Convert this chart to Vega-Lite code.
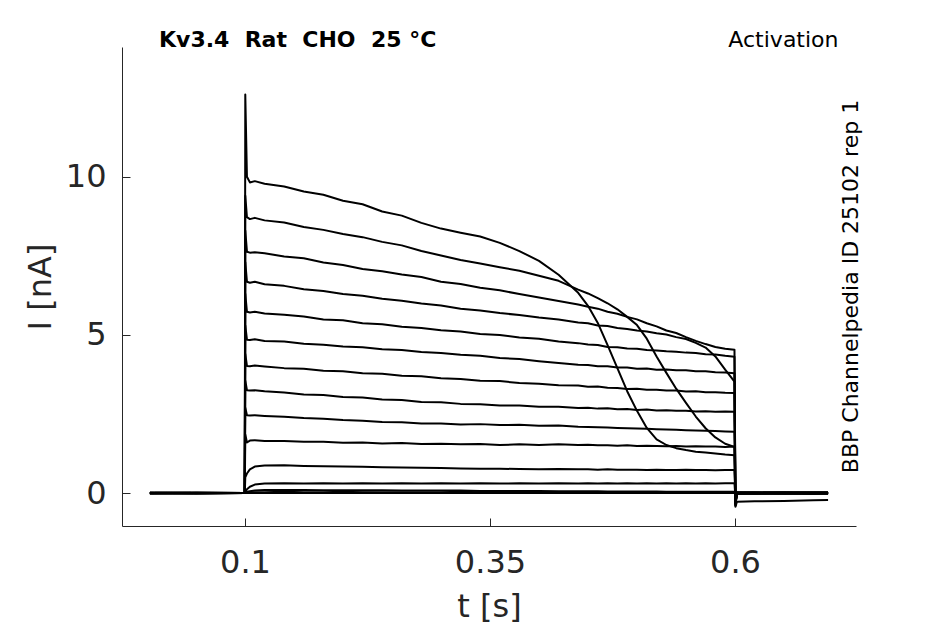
{
  "$schema": "https://vega.github.io/schema/vega-lite/v6.json",
  "width": 734,
  "height": 479,
  "autosize": {"type": "none"},
  "padding": {"left": 122, "top": 47, "right": 89, "bottom": 98},
  "background": "white",
  "config": {"view": {"stroke": null}, "font": "DejaVu Sans"},
  "title": {
    "text": "Kv3.4\u00a0 Rat\u00a0 CHO\u00a0 25 °C",
    "anchor": "start", "frame": "group", "offset": 0, "dx": 37, "dy": 41,
    "baseline": "alphabetic", "fontSize": 22, "fontWeight": "bold", "color": "black"
  },
  "data": {"values": [
    {"t":0.003,"a":0,"b":0.01,"c":0,"d":-0.01,"e":0,"f":0.01,"g":0,"h":-0.01,"i":0,"j":0.01,"k":0,"l":0,"m":0.01,"n":0,"o":-0.01},
    {"t":0.05,"a":0.01,"b":0,"c":-0.01,"d":0,"e":0.01,"f":0,"g":-0.01,"h":0,"i":0.01,"j":0,"k":-0.01,"l":0.01,"m":0,"n":0,"o":0},
    {"t":0.0998,"a":0,"b":0,"c":0,"d":0,"e":0,"f":0,"g":0,"h":0,"i":0,"j":0,"k":0,"l":0,"m":0,"n":0,"o":0},
    {"t":0.1003,"a":12.6,"b":9.4,"c":8.3,"d":7.3,"e":6.3,"f":5.3,"g":4.4,"h":3.55,"i":2.7,"j":1.85,"k":0.5,"l":0.05,"m":0.02,"n":0.01,"o":0},
    {"t":0.102,"a":10.0,"b":8.72,"c":7.63,"d":6.68,"e":5.73,"f":4.85,"g":4.02,"h":3.25,"i":2.46,"j":1.6,"k":0.62,"l":0.12,"m":0.04,"n":0.02,"o":0},
    {"t":0.105,"a":9.82,"b":8.66,"c":7.6,"d":6.65,"e":5.71,"f":4.84,"g":4.01,"h":3.24,"i":2.45,"j":1.66,"k":0.75,"l":0.2,"m":0.06,"n":0.03,"o":0},
    {"t":0.11,"a":9.86,"b":8.7,"c":7.61,"d":6.68,"e":5.73,"f":4.86,"g":4.03,"h":3.25,"i":2.46,"j":1.67,"k":0.84,"l":0.27,"m":0.08,"n":0.03,"o":0},
    {"t":0.12,"a":9.78,"b":8.62,"c":7.58,"d":6.6,"e":5.68,"f":4.81,"g":4.0,"h":3.22,"i":2.44,"j":1.65,"k":0.87,"l":0.3,"m":0.1,"n":0.03,"o":0},
    {"t":0.14,"a":9.69,"b":8.55,"c":7.48,"d":6.55,"e":5.64,"f":4.79,"g":3.95,"h":3.18,"i":2.41,"j":1.65,"k":0.88,"l":0.31,"m":0.1,"n":0.04,"o":0.01},
    {"t":0.16,"a":9.53,"b":8.41,"c":7.42,"d":6.44,"e":5.58,"f":4.72,"g":3.93,"h":3.12,"i":2.37,"j":1.62,"k":0.86,"l":0.3,"m":0.1,"n":0.03,"o":0},
    {"t":0.18,"a":9.43,"b":8.32,"c":7.29,"d":6.39,"e":5.49,"f":4.69,"g":3.87,"h":3.1,"i":2.35,"j":1.62,"k":0.85,"l":0.31,"m":0.09,"n":0.03,"o":0},
    {"t":0.2,"a":9.24,"b":8.19,"c":7.21,"d":6.29,"e":5.46,"f":4.63,"g":3.85,"h":3.04,"i":2.31,"j":1.59,"k":0.84,"l":0.3,"m":0.09,"n":0.04,"o":0},
    {"t":0.22,"a":9.13,"b":8.09,"c":7.08,"d":6.24,"e":5.37,"f":4.61,"g":3.79,"h":3.02,"i":2.29,"j":1.6,"k":0.83,"l":0.31,"m":0.09,"n":0.03,"o":0.01},
    {"t":0.24,"a":8.9,"b":7.94,"c":7.01,"d":6.14,"e":5.34,"f":4.55,"g":3.77,"h":2.96,"i":2.25,"j":1.57,"k":0.82,"l":0.3,"m":0.09,"n":0.03,"o":0},
    {"t":0.26,"a":8.77,"b":7.83,"c":6.91,"d":6.08,"e":5.26,"f":4.52,"g":3.71,"h":2.94,"i":2.24,"j":1.58,"k":0.81,"l":0.31,"m":0.08,"n":0.03,"o":0},
    {"t":0.28,"a":8.54,"b":7.65,"c":6.83,"d":5.99,"e":5.22,"f":4.46,"g":3.69,"h":2.88,"i":2.2,"j":1.55,"k":0.8,"l":0.3,"m":0.08,"n":0.03,"o":0},
    {"t":0.3,"a":8.36,"b":7.51,"c":6.68,"d":5.93,"e":5.15,"f":4.43,"g":3.63,"h":2.87,"i":2.2,"j":1.56,"k":0.79,"l":0.31,"m":0.08,"n":0.03,"o":0},
    {"t":0.32,"a":8.23,"b":7.37,"c":6.61,"d":5.83,"e":5.11,"f":4.37,"g":3.61,"h":2.82,"i":2.17,"j":1.54,"k":0.78,"l":0.3,"m":0.08,"n":0.04,"o":0},
    {"t":0.34,"a":8.11,"b":7.26,"c":6.49,"d":5.77,"e":5.03,"f":4.34,"g":3.55,"h":2.81,"i":2.18,"j":1.55,"k":0.77,"l":0.31,"m":0.07,"n":0.03,"o":0},
    {"t":0.36,"a":7.91,"b":7.14,"c":6.41,"d":5.69,"e":5.0,"f":4.27,"g":3.54,"h":2.77,"i":2.15,"j":1.52,"k":0.77,"l":0.3,"m":0.07,"n":0.03,"o":0},
    {"t":0.38,"a":7.65,"b":7.03,"c":6.29,"d":5.63,"e":4.92,"f":4.24,"g":3.48,"h":2.77,"i":2.16,"j":1.54,"k":0.76,"l":0.31,"m":0.07,"n":0.03,"o":0},
    {"t":0.4,"a":7.34,"b":6.87,"c":6.18,"d":5.55,"e":4.88,"f":4.17,"g":3.46,"h":2.73,"i":2.13,"j":1.52,"k":0.75,"l":0.3,"m":0.07,"n":0.03,"o":0},
    {"t":0.42,"a":6.9,"b":6.71,"c":6.07,"d":5.49,"e":4.79,"f":4.11,"g":3.41,"h":2.73,"i":2.14,"j":1.54,"k":0.76,"l":0.31,"m":0.06,"n":0.03,"o":0},
    {"t":0.44,"a":6.33,"b":6.43,"c":5.96,"d":5.39,"e":4.74,"f":4.06,"g":3.4,"h":2.69,"i":2.1,"j":1.52,"k":0.75,"l":0.3,"m":0.06,"n":0.03,"o":0},
    {"t":0.45,"a":5.92,"b":6.31,"c":5.89,"d":5.37,"e":4.7,"f":4.05,"g":3.36,"h":2.7,"i":2.09,"j":1.53,"k":0.75,"l":0.31,"m":0.06,"n":0.03,"o":0},
    {"t":0.46,"a":5.38,"b":6.16,"c":5.83,"d":5.3,"e":4.68,"f":4.01,"g":3.37,"h":2.67,"i":2.08,"j":1.51,"k":0.74,"l":0.3,"m":0.06,"n":0.02,"o":0},
    {"t":0.47,"a":4.68,"b":6.0,"c":5.73,"d":5.28,"e":4.62,"f":4.01,"g":3.33,"h":2.68,"i":2.07,"j":1.51,"k":0.75,"l":0.31,"m":0.05,"n":0.03,"o":0},
    {"t":0.48,"a":3.95,"b":5.81,"c":5.67,"d":5.22,"e":4.61,"f":3.97,"g":3.32,"h":2.65,"i":2.06,"j":1.5,"k":0.74,"l":0.3,"m":0.05,"n":0.03,"o":0},
    {"t":0.49,"a":3.22,"b":5.57,"c":5.57,"d":5.19,"e":4.57,"f":3.97,"g":3.29,"h":2.66,"i":2.05,"j":1.51,"k":0.74,"l":0.31,"m":0.05,"n":0.02,"o":0},
    {"t":0.5,"a":2.6,"b":5.31,"c":5.49,"d":5.14,"e":4.56,"f":3.93,"g":3.3,"h":2.63,"i":2.04,"j":1.49,"k":0.74,"l":0.3,"m":0.05,"n":0.03,"o":0},
    {"t":0.51,"a":2.06,"b":4.88,"c":5.37,"d":5.11,"e":4.52,"f":3.94,"g":3.27,"h":2.64,"i":2.03,"j":1.5,"k":0.73,"l":0.31,"m":0.05,"n":0.03,"o":0},
    {"t":0.52,"a":1.7,"b":4.32,"c":5.27,"d":5.05,"e":4.51,"f":3.9,"g":3.27,"h":2.61,"i":2.02,"j":1.49,"k":0.74,"l":0.3,"m":0.05,"n":0.02,"o":0},
    {"t":0.53,"a":1.52,"b":3.8,"c":5.14,"d":5.01,"e":4.48,"f":3.91,"g":3.24,"h":2.62,"i":2.01,"j":1.48,"k":0.73,"l":0.31,"m":0.04,"n":0.02,"o":0},
    {"t":0.54,"a":1.42,"b":3.3,"c":5.06,"d":4.93,"e":4.47,"f":3.88,"g":3.24,"h":2.6,"i":2.0,"j":1.49,"k":0.73,"l":0.3,"m":0.04,"n":0.03,"o":0},
    {"t":0.55,"a":1.36,"b":2.85,"c":4.93,"d":4.87,"e":4.44,"f":3.88,"g":3.21,"h":2.6,"i":1.99,"j":1.47,"k":0.74,"l":0.31,"m":0.04,"n":0.02,"o":0},
    {"t":0.56,"a":1.31,"b":2.42,"c":4.81,"d":4.75,"e":4.43,"f":3.85,"g":3.22,"h":2.58,"i":1.98,"j":1.48,"k":0.73,"l":0.3,"m":0.04,"n":0.02,"o":0},
    {"t":0.57,"a":1.28,"b":2.05,"c":4.71,"d":4.6,"e":4.39,"f":3.85,"g":3.19,"h":2.59,"i":1.97,"j":1.47,"k":0.73,"l":0.31,"m":0.04,"n":0.02,"o":0},
    {"t":0.58,"a":1.25,"b":1.76,"c":4.62,"d":4.32,"e":4.38,"f":3.82,"g":3.19,"h":2.57,"i":1.96,"j":1.47,"k":0.72,"l":0.3,"m":0.04,"n":0.02,"o":0},
    {"t":0.59,"a":1.22,"b":1.56,"c":4.56,"d":3.9,"e":4.34,"f":3.81,"g":3.17,"h":2.58,"i":1.95,"j":1.46,"k":0.73,"l":0.31,"m":0.04,"n":0.02,"o":0},
    {"t":0.5995,"a":1.2,"b":1.46,"c":4.53,"d":3.52,"e":4.31,"f":3.79,"g":3.16,"h":2.57,"i":1.94,"j":1.47,"k":0.73,"l":0.31,"m":0.04,"n":0.02,"o":0},
    {"t":0.6005,"a":-0.43,"b":-0.4,"c":-0.38,"d":-0.36,"e":-0.34,"f":-0.32,"g":-0.3,"h":-0.28,"i":-0.26,"j":-0.24,"k":-0.2,"l":-0.15,"m":-0.1,"n":-0.05,"o":-0.02},
    {"t":0.602,"a":-0.27,"b":0.02,"c":0.01,"d":-0.01,"e":0,"f":0.02,"g":-0.02,"h":0.01,"i":0,"j":-0.01,"k":0.02,"l":0,"m":0.01,"n":-0.01,"o":0},
    {"t":0.62,"a":-0.26,"b":0.01,"c":0.02,"d":0,"e":-0.01,"f":0.01,"g":-0.01,"h":0.02,"i":0.01,"j":-0.02,"k":0.01,"l":0.01,"m":0,"n":-0.01,"o":0},
    {"t":0.65,"a":-0.25,"b":0.02,"c":0.01,"d":-0.01,"e":0.01,"f":0.02,"g":-0.02,"h":0.01,"i":0,"j":-0.01,"k":0.02,"l":0,"m":0.01,"n":0,"o":-0.01},
    {"t":0.68,"a":-0.23,"b":0.01,"c":0.02,"d":0,"e":-0.01,"f":0.01,"g":-0.01,"h":0.02,"i":0.01,"j":-0.02,"k":0.01,"l":0.01,"m":0,"n":-0.01,"o":0},
    {"t":0.695,"a":-0.22,"b":0.02,"c":0.01,"d":-0.01,"e":0,"f":0.02,"g":-0.02,"h":0.01,"i":0,"j":-0.01,"k":0.02,"l":0,"m":0.01,"n":-0.01,"o":0}
  ]},
  "transform": [
    {"fold": ["a","b","c","d","e","f","g","h","i","j","k","l","m","n","o"], "as": ["sweep","current"]}
  ],
  "layer": [
    {
      "mark": {"type": "line", "color": "black", "strokeWidth": 2, "strokeJoin": "round"},
      "encoding": {
        "x": {"field": "t", "type": "quantitative",
          "scale": {"domain": [-0.0255, 0.7235], "nice": false, "zero": false},
          "axis": {"orient": "bottom", "values": [0.1, 0.35, 0.6], "format": ".2~f", "grid": false,
            "domainColor": "#262626", "tickColor": "#262626", "tickSize": -8,
            "labelFontSize": 32, "labelColor": "#262626", "labelPadding": 54, "labelBaseline": "alphabetic",
            "title": "t [s]", "titleFontSize": 32, "titleFontWeight": "normal", "titleColor": "#262626",
            "titleX": 367, "titleY": 90, "titleAlign": "center", "titleBaseline": "alphabetic"}},
        "y": {"field": "current", "type": "quantitative",
          "scale": {"domain": [-1.04, 14.1], "nice": false, "zero": false},
          "axis": {"orient": "left", "values": [0, 5, 10], "grid": false,
            "domainColor": "#262626", "tickColor": "#262626", "tickSize": -8,
            "labelFontSize": 32, "labelColor": "#262626", "labelPadding": 24,
            "title": "I [nA]", "titleFontSize": 32, "titleFontWeight": "normal", "titleColor": "#262626",
            "titleAngle": 270, "titleX": -72, "titleY": 239.5, "titleAlign": "center", "titleBaseline": "alphabetic"}},
        "detail": {"field": "sweep"}
      }
    },
    {
      "mark": {"type": "line", "strokeOpacity": 0},
      "encoding": {
        "x": {"field": "t", "type": "quantitative",
          "scale": {"domain": [-0.0255, 0.7235], "nice": false, "zero": false},
          "axis": {"orient": "top", "domain": false, "ticks": false, "labels": false, "grid": false,
            "title": "Activation", "titleFontSize": 22, "titleFontWeight": "normal", "titleColor": "black",
            "titleX": 716, "titleY": -1, "titleAlign": "right", "titleBaseline": "alphabetic"}},
        "y": {"field": "current", "type": "quantitative",
          "scale": {"domain": [-1.04, 14.1], "nice": false, "zero": false},
          "axis": {"orient": "right", "domain": false, "ticks": false, "labels": false, "grid": false,
            "title": "BBP Channelpedia ID 25102 rep 1", "titleFontSize": 22, "titleFontWeight": "normal", "titleColor": "black",
            "titleAngle": 270, "titleX": 1, "titleY": 239, "titleAlign": "center", "titleBaseline": "alphabetic"}},
        "detail": {"field": "sweep"}
      }
    }
  ],
  "resolve": {"axis": {"x": "independent", "y": "independent"}}
}
